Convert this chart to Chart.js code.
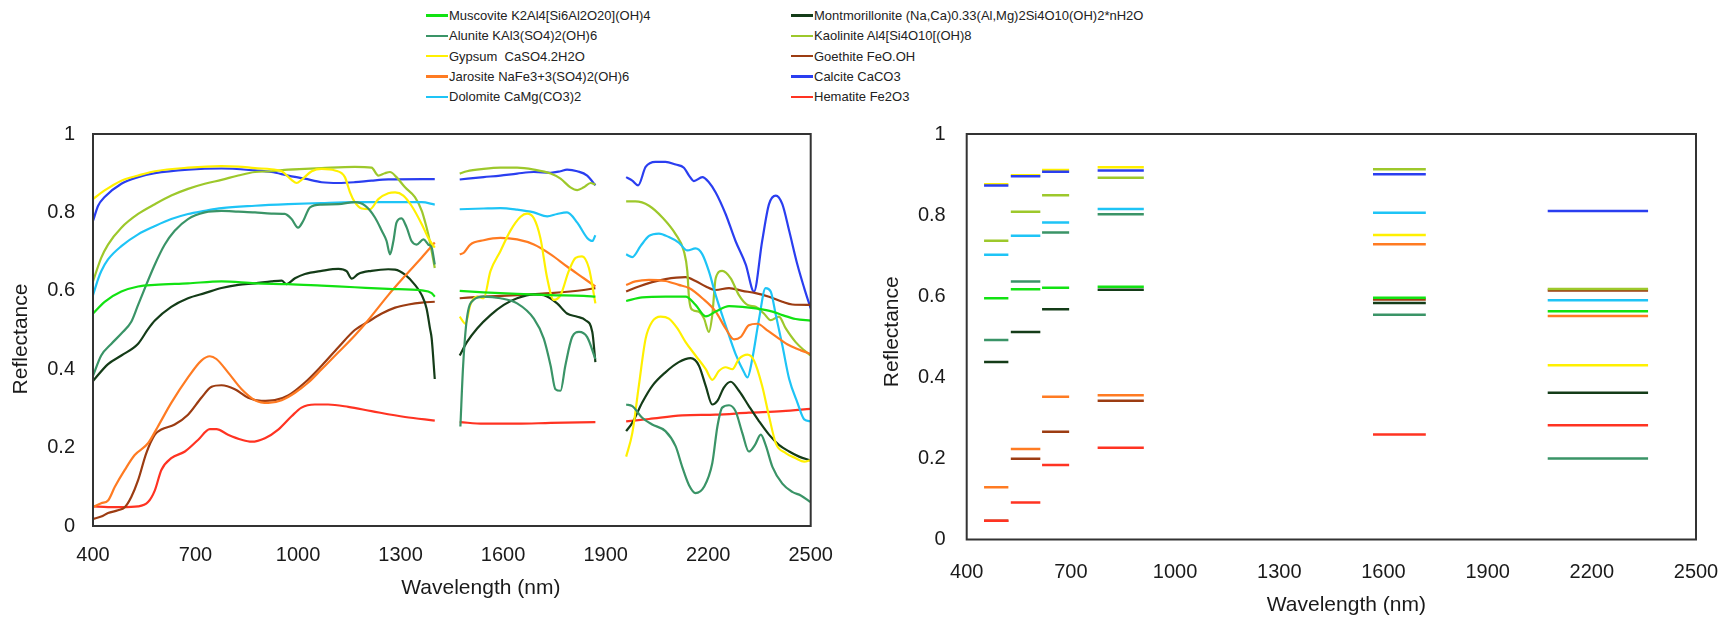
<!DOCTYPE html>
<html>
<head>
<meta charset="utf-8">
<title>Mineral reflectance spectra</title>
<script src="https://cdn.jsdelivr.net/npm/chart.js@4.4.1/dist/chart.umd.min.js"></script>
<style>
    body { margin: 0; width: 1725px; height: 617px; background: #fff; position: relative; overflow: hidden;
           font-family: "Liberation Sans", Arial, sans-serif; }
    #spectraChart { position: absolute; left: 0; top: 104px; }
    #bandChart { position: absolute; left: 850px; top: 101px; }
    .legendItem { position: absolute; font-size: 13px; color: #222; white-space: pre; line-height: 16px; }
    .legendItem .swatch { display: inline-block; width: 22px; height: 2.5px; vertical-align: middle; margin-right: 1px; position: relative; top: -1px; }
</style>
</head>
<body>
<div id="legend"></div>
<canvas id="spectraChart" width="857" height="513"></canvas>
<canvas id="bandChart" width="892" height="516"></canvas>
<script>
// lab spectra: [wavelength nm, reflectance], null = detector gap
const muscovite = [[400,0.542],[434,0.572],[483,0.598],[532,0.611],[581,0.615],[678,0.619],[776,0.624],[874,0.619],[971,0.617],[1069,0.613],[1166,0.609],[1264,0.605],[1362,0.601],[1391,0.594],[1400,0.585], null,
    [1473,0.600],[1543,0.596],[1641,0.592],[1739,0.589],[1836,0.587],[1870,0.585], null,
    [1960,0.574],[2007,0.583],[2075,0.585],[2134,0.585],[2163,0.564],[2193,0.535],[2222,0.547],[2261,0.561],[2300,0.559],[2339,0.555],[2388,0.547],[2417,0.538],[2456,0.528],[2500,0.524]];

const alunite = [[400,0.383],[424,0.435],[454,0.465],[483,0.491],[512,0.521],[532,0.564],[581,0.667],[610,0.718],[639,0.753],[678,0.783],[727,0.800],[776,0.804],[825,0.802],[874,0.800],[922,0.797],[961,0.796],[981,0.783],[1000,0.761],[1015,0.778],[1035,0.813],[1069,0.820],[1118,0.821],[1166,0.826],[1196,0.817],[1225,0.787],[1245,0.753],[1259,0.727],[1269,0.693],[1279,0.727],[1288,0.774],[1303,0.785],[1318,0.761],[1332,0.727],[1347,0.718],[1367,0.731],[1381,0.718],[1391,0.710],[1400,0.667], null,
    [1475,0.254],[1483,0.409],[1494,0.529],[1514,0.577],[1543,0.585],[1592,0.581],[1641,0.568],[1690,0.529],[1719,0.478],[1739,0.409],[1753,0.349],[1768,0.345],[1782,0.409],[1802,0.482],[1822,0.495],[1846,0.482],[1870,0.426], null,
    [1960,0.310],[1978,0.306],[2007,0.276],[2036,0.259],[2075,0.242],[2105,0.203],[2124,0.151],[2144,0.104],[2163,0.084],[2188,0.100],[2212,0.160],[2227,0.254],[2241,0.302],[2261,0.308],[2280,0.293],[2300,0.237],[2319,0.190],[2337,0.207],[2354,0.233],[2368,0.207],[2388,0.151],[2417,0.108],[2446,0.087],[2471,0.078],[2500,0.061]];

const gypsum = [[400,0.834],[434,0.856],[483,0.881],[532,0.894],[581,0.905],[678,0.914],[776,0.918],[825,0.917],[874,0.913],[922,0.910],[952,0.905],[981,0.883],[996,0.875],[1010,0.883],[1040,0.905],[1069,0.911],[1108,0.907],[1137,0.890],[1152,0.851],[1166,0.826],[1186,0.810],[1210,0.808],[1235,0.834],[1264,0.849],[1284,0.851],[1308,0.843],[1332,0.817],[1362,0.770],[1381,0.735],[1400,0.710], null,
    [1473,0.534],[1490,0.516],[1504,0.564],[1524,0.585],[1543,0.581],[1563,0.650],[1592,0.701],[1621,0.753],[1651,0.789],[1670,0.797],[1690,0.785],[1709,0.735],[1729,0.632],[1748,0.577],[1768,0.589],[1792,0.650],[1812,0.684],[1831,0.688],[1851,0.658],[1870,0.568], null,
    [1960,0.177],[1978,0.237],[1997,0.357],[2017,0.478],[2036,0.521],[2061,0.534],[2085,0.529],[2110,0.504],[2134,0.469],[2163,0.435],[2193,0.400],[2212,0.373],[2232,0.396],[2251,0.405],[2271,0.400],[2290,0.426],[2315,0.437],[2334,0.422],[2358,0.357],[2378,0.280],[2398,0.211],[2427,0.186],[2456,0.173],[2481,0.164],[2500,0.168]];

const jarosite = [[400,0.048],[424,0.058],[444,0.065],[464,0.100],[493,0.143],[522,0.181],[561,0.211],[590,0.254],[629,0.314],[678,0.379],[717,0.422],[742,0.433],[761,0.426],[795,0.392],[835,0.349],[874,0.321],[913,0.314],[952,0.321],[991,0.340],[1030,0.366],[1069,0.400],[1118,0.443],[1166,0.486],[1205,0.525],[1264,0.589],[1313,0.638],[1362,0.685],[1400,0.723], null,
    [1473,0.693],[1485,0.697],[1504,0.718],[1543,0.729],[1592,0.735],[1641,0.731],[1690,0.718],[1739,0.693],[1787,0.662],[1836,0.632],[1870,0.611], null,
    [1960,0.615],[1987,0.624],[2027,0.628],[2075,0.625],[2114,0.615],[2144,0.607],[2183,0.581],[2222,0.547],[2251,0.504],[2276,0.476],[2295,0.482],[2319,0.512],[2344,0.516],[2373,0.499],[2407,0.478],[2437,0.461],[2471,0.448],[2500,0.439]];

const dolomite = [[400,0.589],[415,0.630],[424,0.650],[444,0.680],[483,0.714],[532,0.744],[581,0.765],[629,0.783],[678,0.796],[727,0.804],[776,0.811],[874,0.817],[971,0.821],[1069,0.824],[1166,0.826],[1264,0.826],[1362,0.826],[1400,0.820], null,
    [1473,0.808],[1543,0.810],[1592,0.811],[1641,0.807],[1690,0.800],[1729,0.790],[1758,0.796],[1787,0.800],[1817,0.774],[1846,0.735],[1861,0.727],[1870,0.742], null,
    [1960,0.693],[1978,0.686],[2002,0.714],[2027,0.740],[2056,0.746],[2085,0.737],[2114,0.723],[2139,0.703],[2163,0.708],[2183,0.693],[2202,0.650],[2222,0.589],[2251,0.512],[2280,0.439],[2305,0.392],[2315,0.379],[2329,0.426],[2349,0.529],[2368,0.607],[2383,0.598],[2398,0.538],[2417,0.461],[2437,0.375],[2461,0.315],[2481,0.272],[2500,0.267]];

const montmorillonite = [[400,0.370],[444,0.413],[483,0.435],[532,0.465],[561,0.502],[581,0.524],[629,0.559],[678,0.581],[727,0.594],[776,0.607],[825,0.615],[874,0.619],[922,0.624],[952,0.626],[966,0.617],[991,0.632],[1020,0.643],[1069,0.651],[1118,0.656],[1142,0.650],[1157,0.631],[1176,0.643],[1215,0.651],[1264,0.655],[1284,0.654],[1313,0.641],[1342,0.615],[1362,0.589],[1376,0.555],[1386,0.504],[1391,0.478],[1400,0.375], null,
    [1473,0.435],[1494,0.469],[1524,0.504],[1563,0.538],[1602,0.564],[1641,0.581],[1690,0.591],[1719,0.589],[1758,0.568],[1787,0.542],[1817,0.534],[1841,0.525],[1861,0.495],[1870,0.418], null,
    [1960,0.242],[1978,0.263],[2007,0.315],[2036,0.357],[2075,0.392],[2114,0.418],[2149,0.428],[2173,0.409],[2193,0.357],[2212,0.310],[2227,0.319],[2246,0.353],[2266,0.368],[2290,0.345],[2319,0.306],[2349,0.267],[2378,0.233],[2407,0.207],[2437,0.190],[2466,0.177],[2500,0.167]];

const kaolinite = [[400,0.624],[424,0.684],[444,0.718],[483,0.761],[532,0.796],[581,0.821],[629,0.843],[678,0.860],[727,0.873],[776,0.883],[825,0.894],[874,0.903],[922,0.905],[971,0.909],[1020,0.911],[1069,0.913],[1166,0.916],[1215,0.914],[1235,0.894],[1254,0.900],[1269,0.903],[1288,0.890],[1313,0.864],[1342,0.839],[1362,0.804],[1371,0.778],[1381,0.744],[1391,0.701],[1400,0.658], null,
    [1473,0.899],[1494,0.905],[1543,0.911],[1592,0.914],[1641,0.914],[1690,0.909],[1739,0.899],[1768,0.886],[1797,0.864],[1817,0.857],[1836,0.864],[1856,0.875],[1870,0.871], null,
    [1960,0.828],[1987,0.828],[2027,0.817],[2066,0.787],[2105,0.744],[2129,0.701],[2139,0.650],[2144,0.581],[2155,0.551],[2171,0.547],[2188,0.529],[2202,0.495],[2212,0.538],[2222,0.632],[2241,0.651],[2266,0.632],[2290,0.589],[2315,0.564],[2339,0.559],[2363,0.542],[2383,0.525],[2407,0.534],[2427,0.504],[2456,0.469],[2481,0.448],[2500,0.435]];

const goethite = [[400,0.018],[424,0.024],[444,0.033],[473,0.040],[493,0.048],[512,0.074],[532,0.117],[556,0.186],[581,0.233],[600,0.246],[639,0.259],[678,0.284],[717,0.327],[747,0.355],[776,0.359],[815,0.349],[854,0.327],[893,0.319],[932,0.321],[971,0.333],[1020,0.366],[1069,0.409],[1118,0.456],[1166,0.500],[1205,0.521],[1245,0.542],[1284,0.557],[1323,0.565],[1362,0.570],[1400,0.572], null,
    [1473,0.581],[1543,0.585],[1641,0.589],[1739,0.594],[1836,0.602],[1870,0.607], null,
    [1960,0.598],[1997,0.611],[2036,0.622],[2075,0.630],[2134,0.635],[2163,0.625],[2193,0.611],[2222,0.602],[2261,0.607],[2300,0.600],[2339,0.594],[2378,0.585],[2417,0.572],[2446,0.565],[2500,0.564]];

const calcite = [[400,0.778],[415,0.817],[434,0.839],[483,0.873],[532,0.890],[581,0.900],[678,0.909],[776,0.912],[874,0.907],[922,0.903],[971,0.894],[1020,0.886],[1069,0.877],[1118,0.875],[1166,0.877],[1215,0.881],[1264,0.884],[1400,0.885], null,
    [1473,0.884],[1543,0.890],[1592,0.894],[1641,0.899],[1690,0.903],[1739,0.901],[1768,0.905],[1787,0.909],[1817,0.905],[1846,0.894],[1870,0.869], null,
    [1960,0.890],[1978,0.881],[1995,0.869],[2017,0.916],[2046,0.929],[2075,0.929],[2105,0.922],[2129,0.914],[2144,0.894],[2158,0.880],[2183,0.890],[2202,0.877],[2222,0.851],[2251,0.796],[2280,0.727],[2310,0.667],[2334,0.598],[2358,0.727],[2378,0.821],[2398,0.843],[2417,0.821],[2437,0.753],[2461,0.667],[2481,0.607],[2500,0.555]];

const hematite = [[400,0.050],[444,0.048],[483,0.048],[532,0.050],[561,0.061],[581,0.091],[600,0.143],[629,0.173],[669,0.190],[708,0.220],[742,0.247],[761,0.247],[795,0.233],[835,0.220],[864,0.215],[903,0.224],[942,0.246],[981,0.280],[1010,0.302],[1049,0.310],[1088,0.310],[1147,0.304],[1215,0.293],[1313,0.278],[1400,0.269], null,
    [1473,0.265],[1543,0.261],[1641,0.261],[1739,0.263],[1870,0.265], null,
    [1960,0.267],[2027,0.273],[2124,0.282],[2222,0.284],[2319,0.289],[2417,0.293],[2500,0.299]];

// sensor band edges (nm) and band-averaged reflectance per mineral
const bandFrom = [450, 527, 617, 777, 1570, 2073];
const bandTo = [520, 612, 695, 910, 1722, 2362];
const muscoviteBands = [0.595, 0.617, 0.621, 0.623, 0.596, 0.563];
const aluniteBands = [0.492, 0.636, 0.757, 0.802, 0.554, 0.200];
const gypsumBands = [0.876, 0.898, 0.911, 0.918, 0.751, 0.430];
const jarositeBands = [0.129, 0.223, 0.352, 0.356, 0.728, 0.551];
const dolomiteBands = [0.702, 0.749, 0.782, 0.815, 0.806, 0.590];
const montmorilloniteBands = [0.438, 0.512, 0.568, 0.616, 0.583, 0.362];
const kaoliniteBands = [0.737, 0.808, 0.849, 0.892, 0.913, 0.618];
const goethiteBands = [0.046, 0.199, 0.266, 0.342, 0.592, 0.614];
const calciteBands = [0.873, 0.896, 0.907, 0.910, 0.901, 0.810];
const hematiteBands = [0.046, 0.091, 0.184, 0.226, 0.259, 0.282];

const xTicks = [400, 700, 1000, 1300, 1600, 1900, 2200, 2500];
const yTicks = [0, 0.2, 0.4, 0.6, 0.8, 1];

// order: lower numbers are painted on top
const minerals = [
    { label: 'Muscovite K2Al4[Si6Al2O20](OH)4', color: '#12e212', spec: muscovite, bands: muscoviteBands, order: 0 },
    { label: 'Alunite KAl3(SO4)2(OH)6', color: '#3a9467', spec: alunite, bands: aluniteBands, order: 1 },
    { label: 'Gypsum  CaSO4.2H2O', color: '#fff000', spec: gypsum, bands: gypsumBands, order: 2 },
    { label: 'Jarosite NaFe3+3(SO4)2(OH)6', color: '#ff7b22', spec: jarosite, bands: jarositeBands, order: 3 },
    { label: 'Dolomite CaMg(CO3)2', color: '#1ec4f6', spec: dolomite, bands: dolomiteBands, order: 4 },
    { label: 'Montmorillonite (Na,Ca)0.33(Al,Mg)2Si4O10(OH)2*nH2O', color: '#143c18', spec: montmorillonite, bands: montmorilloniteBands, order: 5 },
    { label: 'Kaolinite Al4[Si4O10[(OH)8', color: '#9dc82b', spec: kaolinite, bands: kaoliniteBands, order: 6 },
    { label: 'Goethite FeO.OH', color: '#9c3c12', spec: goethite, bands: goethiteBands, order: 7 },
    { label: 'Calcite CaCO3', color: '#2a3ef0', spec: calcite, bands: calciteBands, order: 1.5 },
    { label: 'Hematite Fe2O3', color: '#ff3322', spec: hematite, bands: hematiteBands, order: -1 }
];

const fontFamily = '"Liberation Sans", Arial, sans-serif';

function toPoints(spec) {
    const pts = [];
    spec.forEach((p, i) => {
        if (p === null) {
            pts.push({ x: spec[i - 1][0] + 1, y: null });
        } else {
            pts.push({ x: p[0], y: p[1] });
        }
    });
    return pts;
}

function bandPoints(values) {
    const pts = [];
    values.forEach((v, i) => {
        pts.push({ x: bandFrom[i], y: v }, { x: bandTo[i], y: v }, { x: bandTo[i] + 1, y: null });
    });
    return pts;
}

// box around the plot area
const frameBox = {
    id: 'frameBox',
    afterDatasetsDraw(chart) {
        const { ctx, chartArea: a } = chart;
        ctx.save();
        ctx.strokeStyle = '#333';
        ctx.lineWidth = 2;
        ctx.strokeRect(a.left, a.top, a.right - a.left, a.bottom - a.top);
        ctx.restore();
    }
};

// axis captions, placed relative to the plot area
const axisCaptions = {
    id: 'axisCaptions',
    afterDraw(chart, args, opts) {
        const { ctx, chartArea: a } = chart;
        ctx.save();
        ctx.font = '21px ' + fontFamily;
        ctx.fillStyle = '#1a1a1a';
        ctx.textAlign = 'center';
        ctx.textBaseline = 'middle';
        ctx.fillText('Wavelength (nm)', (a.left + a.right) / 2 + opts.xShift, a.bottom + opts.xGap);
        ctx.translate(opts.yLeft, (a.top + a.bottom) / 2 + opts.yShift);
        ctx.rotate(-Math.PI / 2);
        ctx.fillText('Reflectance', 0, 0);
        ctx.restore();
    }
};

function makeScales(yWidth, yPad, xPad, xHeight) {
    return {
        x: {
            type: 'linear',
            min: 400,
            max: 2500,
            afterBuildTicks: (scale) => { scale.ticks = xTicks.map(v => ({ value: v })); },
            afterFit: (scale) => { scale.height = xHeight; },
            grid: { display: false, drawTicks: false },
            border: { display: false },
            ticks: { padding: xPad, color: '#1a1a1a', font: { family: fontFamily, size: 20 },
                     callback: (v) => String(v) }
        },
        y: {
            min: 0,
            max: 1,
            afterBuildTicks: (scale) => { scale.ticks = yTicks.map(v => ({ value: v })); },
            afterFit: (scale) => { scale.width = yWidth; },
            grid: { display: false, drawTicks: false },
            border: { display: false },
            ticks: { padding: yPad, color: '#1a1a1a', font: { family: fontFamily, size: 20 },
                     callback: (v) => String(Number(v.toFixed(1))) }
        }
    };
}

function createSpectraChart() {
    const ctx = document.getElementById('spectraChart').getContext('2d');
    new Chart(ctx, {
        type: 'line',
        data: {
            datasets: minerals.map(m => ({
                label: m.label,
                data: toPoints(m.spec),
                borderColor: m.color,
                borderWidth: 2.2,
                pointRadius: 0,
                cubicInterpolationMode: 'monotone',
                spanGaps: false
            }))
        },
        options: {
            responsive: false,
            animation: false,
            layout: { padding: { left: 0, right: 46.3, top: 30, bottom: 0 } },
            scales: makeScales(93, 18, 17, 91),
            plugins: {
                legend: { display: false },
                tooltip: { enabled: false },
                axisCaptions: { xShift: 29, xGap: 62, yLeft: 21, yShift: 9 }
            }
        },
        plugins: [frameBox, axisCaptions]
    });
}

function createBandChart() {
    const ctx = document.getElementById('bandChart').getContext('2d');
    new Chart(ctx, {
        type: 'line',
        data: {
            datasets: minerals.map(m => ({
                label: m.label,
                data: bandPoints(m.bands),
                borderColor: m.color,
                borderWidth: 2.5,
                pointRadius: 0,
                tension: 0,
                spanGaps: false,
                order: m.order
            }))
        },
        options: {
            responsive: false,
            animation: false,
            layout: { padding: { left: 0, right: 46, top: 33, bottom: 0 } },
            scales: makeScales(116.7, 21, 21, 77.5),
            plugins: {
                legend: { display: false },
                tooltip: { enabled: false },
                axisCaptions: { xShift: 15, xGap: 65.5, yLeft: 42, yShift: -5 }
            }
        },
        plugins: [frameBox, axisCaptions]
    });
}

// legend above the plots, two columns of five
function buildLegend() {
    const box = document.getElementById('legend');
    minerals.forEach((m, i) => {
        const col = Math.floor(i / 5);
        const row = i % 5;
        const item = document.createElement('div');
        item.className = 'legendItem';
        item.style.left = (col === 0 ? 426 : 791) + 'px';
        item.style.top = (8 + row * 20.3) + 'px';
        const swatch = document.createElement('span');
        swatch.className = 'swatch';
        swatch.style.background = m.color;
        item.appendChild(swatch);
        item.appendChild(document.createTextNode(m.label));
        box.appendChild(item);
    });
}

buildLegend();
createSpectraChart();
createBandChart();
</script>
</body>
</html>
